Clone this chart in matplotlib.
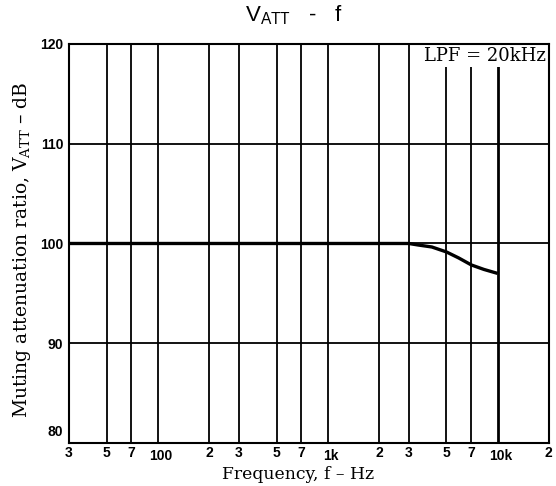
import matplotlib
matplotlib.use("Agg")
import matplotlib.pyplot as plt
import matplotlib.transforms as mtransforms

# chart values
freq_grid = [30, 50, 70, 100, 200, 300, 500, 700, 1000, 2000, 3000, 5000, 7000, 10000, 20000]
freq_labels = ["3", "5", "7", "100", "2", "3", "5", "7", "1k", "2", "3", "5", "7", "10k", "2"]
att_grid = [80, 90, 100, 110, 120]

curve_freq = [30, 3000, 3400, 4100, 5000, 5900, 7000, 8300, 10000]
curve_att = [100.0, 100.0, 99.85, 99.65, 99.15, 98.55, 97.85, 97.4, 97.0]

plt.rcParams["mathtext.fontset"] = "custom"
plt.rcParams["mathtext.rm"] = "Liberation Sans"

fig = plt.figure(figsize=(5.56, 4.86), dpi=100)
ax = fig.add_axes([0.124, 0.0885, 0.863, 0.821])
ax.set_xscale("log")
ax.set_xlim(freq_grid[0], freq_grid[-1])
ax.set_ylim(att_grid[0], att_grid[-1])

for f in freq_grid[1:-1]:
    ax.axvline(f, color="black", lw=2.0 if f == 10000 else 1.3, zorder=1)
for a in att_grid[1:-1]:
    ax.axhline(a, color="black", lw=1.3, zorder=1)

ax.plot(curve_freq, curve_att, color="black", lw=2.4, solid_capstyle="butt", zorder=3)

for s in ax.spines.values():
    s.set_linewidth(1.5)
    s.set_zorder(5)

ax.xaxis.set_minor_locator(matplotlib.ticker.NullLocator())
ax.set_xticks(freq_grid)
ax.set_xticklabels(freq_labels)
ax.set_yticks(att_grid)
ax.set_yticklabels([str(a) for a in att_grid])
ax.tick_params(length=0, labelsize=10)
ax.tick_params(axis="x", pad=2)
ax.tick_params(axis="y", pad=4)
for lab in ax.get_xticklabels() + ax.get_yticklabels():
    lab.set_fontfamily("Liberation Sans")
    lab.set_fontweight("bold")

# decade labels sit a little lower and to the right
for lab in ax.get_xticklabels():
    if lab.get_text() in ("100", "1k", "10k"):
        lab.set_transform(lab.get_transform() +
                          mtransforms.ScaledTranslation(3 / 100, -3 / 100, fig.dpi_scale_trans))
ylabs = ax.get_yticklabels()
ylabs[0].set_transform(ylabs[0].get_transform() +
                       mtransforms.ScaledTranslation(0, 12 / 100, fig.dpi_scale_trans))

ax.text(0.993, 0.993, "LPF = 20kHz", transform=ax.transAxes, ha="right", va="top",
        family="DejaVu Serif", fontsize=13, zorder=4,
        bbox=dict(fc="white", ec="none", pad=2.0))

fig.text(0.529, 0.968, r"V$_{\mathrm{ATT}}$   -   f", ha="center", va="center",
         family="Liberation Sans", fontsize=16)
fig.text(22 / 556, 1 - 250 / 486, r"Muting attenuation ratio, V$_{\mathrm{ATT}}$ – dB",
         rotation=90, ha="center", va="center", family="DejaVu Serif", fontsize=13.5,
         math_fontfamily="dejavuserif")
fig.text(298 / 556, 1 - 474 / 486, "Frequency, f – Hz", ha="center", va="center",
         family="DejaVu Serif", fontsize=12.4)

fig.savefig("out.png", dpi=100)
